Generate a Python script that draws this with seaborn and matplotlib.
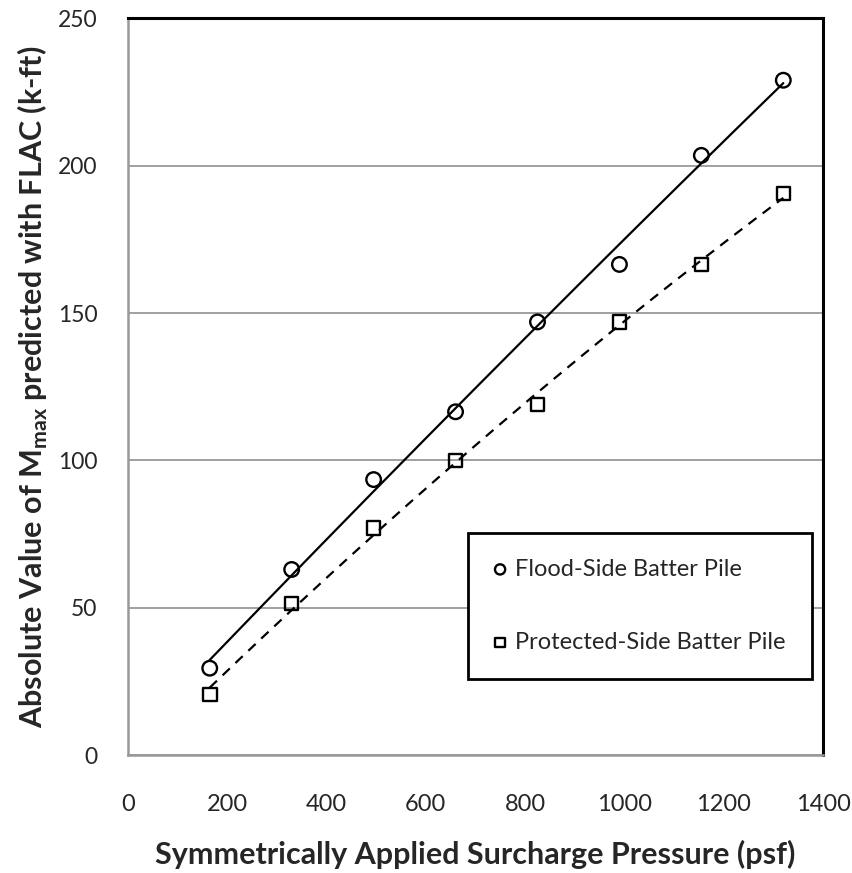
"""
Mmax vs surcharge pressure, flood-side and protected-side batter piles
"""
import matplotlib
matplotlib.use('Agg')
import matplotlib.pyplot as plt
import seaborn as sns
import numpy as np

# Datos
pressure = [165, 330, 495, 660, 825, 990, 1155, 1320]
flood_side = [29.5, 63, 93.5, 116.5, 147, 166.5, 203.5, 229]
protected_side = [20.5, 51.5, 77, 100, 119, 147, 166.5, 190.5]
labels = ['Flood-Side Batter Pile', 'Protected-Side Batter Pile']
xticks = [0, 200, 400, 600, 800, 1000, 1200, 1400]
yticks = [0, 50, 100, 150, 200, 250]

sns.set_style('white')
plt.rcParams['font.family'] = ['Lato', 'DejaVu Sans']
plt.rcParams['mathtext.fontset'] = 'custom'
plt.rcParams['mathtext.rm'] = 'Lato:bold'

GRAY = '#999999'

fig = plt.figure(figsize=(8.52, 8.73), dpi=100)
ax = fig.add_axes([0.150, 0.135, 0.816, 0.844])

# Líneas de tendencia (polinomio de orden 2, como en Excel)
xfit = np.linspace(min(pressure), max(pressure), 200)
for yvals, ls in [(flood_side, '-'), (protected_side, (0, (4.5, 3.5)))]:
    coef = np.polyfit(pressure, yvals, 2)
    sns.lineplot(x=xfit, y=np.polyval(coef, xfit), color='black', lw=1.6,
                 linestyle=ls, ax=ax, zorder=3)

sns.scatterplot(x=pressure, y=flood_side, marker='o', s=110, facecolor='none',
                edgecolor='black', linewidth=1.7, ax=ax, zorder=4, label=labels[0])
sns.scatterplot(x=pressure, y=protected_side, marker='s', s=95, facecolor='none',
                edgecolor='black', linewidth=1.7, ax=ax, zorder=4, label=labels[1])

ax.set_xlim(0, 1400)
ax.set_ylim(0, 250)
ax.set_xticks(xticks)
ax.set_yticks(yticks)
ax.set_xticklabels([str(t) for t in xticks])
ax.set_yticklabels([str(t) for t in yticks])
ax.tick_params(axis='x', direction='out', length=9, width=1.3, color=GRAY,
               labelsize=17, pad=19)
ax.tick_params(axis='y', direction='out', length=8, width=1.3, color=GRAY,
               labelsize=16.5, pad=14)

ax.yaxis.grid(True, color=GRAY, lw=1.3)
ax.xaxis.grid(False)
ax.set_axisbelow(True)

for side in ['top', 'right']:
    ax.spines[side].set_color('black')
    ax.spines[side].set_linewidth(2.2)
for side in ['left', 'bottom']:
    ax.spines[side].set_color(GRAY)
    ax.spines[side].set_linewidth(1.8)

ax.set_xlabel('Symmetrically Applied Surcharge Pressure (psf)', fontsize=22,
              fontweight='bold', labelpad=18)
ax.set_ylabel(r'Absolute Value of M$_{\mathrm{max}}$ predicted with FLAC (k-ft)',
              fontsize=22, fontweight='bold', labelpad=5.5)

leg = ax.legend(loc='lower right', bbox_to_anchor=(0.984, 0.104), fontsize=17,
                frameon=True, fancybox=False, edgecolor='black', framealpha=1,
                borderpad=1.1, labelspacing=2.2, handletextpad=0.4,
                handlelength=0.5, borderaxespad=0, markerscale=0.7)
leg.get_frame().set_linewidth(2.0)

plt.savefig('out.png', dpi=100)
plt.close()
